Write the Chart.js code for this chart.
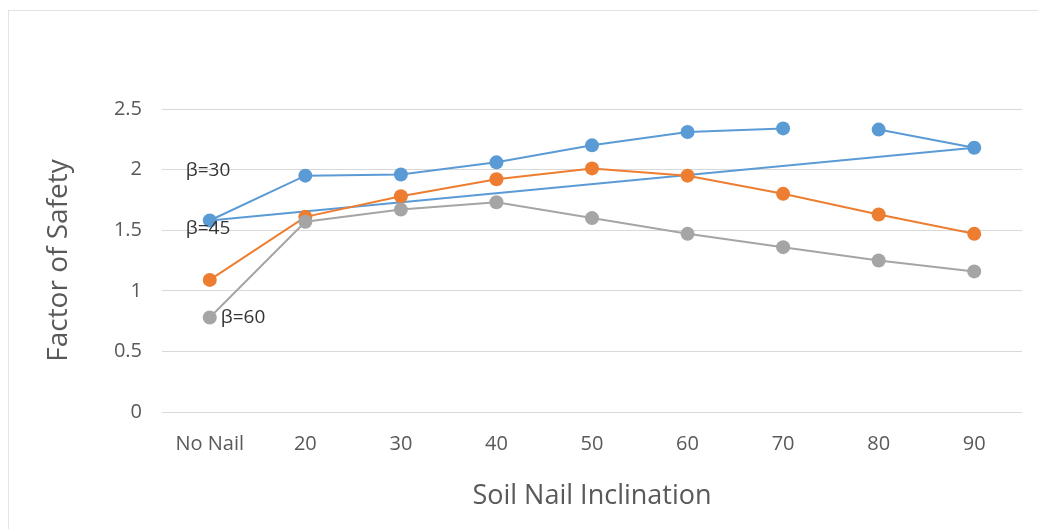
<!DOCTYPE html>
<html>
<head>
<meta charset="utf-8">
<script src="https://cdn.jsdelivr.net/npm/chart.js@4/dist/chart.umd.min.js"></script>
<style>
  body { margin: 0; background: #fff; }
  #wrap { position: relative; width: 1038px; height: 529px; overflow: hidden; }
  #frame { position: absolute; left: 8px; top: 10px; right: -2px; bottom: -2px;
           border-top: 1px solid #e3e3e3; border-left: 1px solid #e3e3e3; }
  canvas { position: absolute; left: 0; top: 0; }
</style>
</head>
<body>
<div id="wrap">
  <div id="frame"></div>
  <canvas id="chart" width="1038" height="529"></canvas>
</div>
<script>
// ---- data ----
const inclinations = ["No Nail", "20", "30", "40", "50", "60", "70", "80", "90"];
const beta30 = [1.58, 1.95, 1.96, 2.06, 2.20, 2.31, 2.34, 2.33, 2.18];
const beta45 = [1.09, 1.61, 1.78, 1.92, 2.01, 1.95, 1.80, 1.63, 1.47];
const beta60 = [0.78, 1.57, 1.67, 1.73, 1.60, 1.47, 1.36, 1.25, 1.16];
// straight blue line joining the first and last beta=30 points
const beta30Chord = [1.58, null, null, null, null, null, null, null, 2.18];
// the beta=30 line is broken after this category
const beta30BreakAfter = "70";
const yTicks = [0, 0.5, 1, 1.5, 2, 2.5];
const yTickLabels = ["0", "0.5", "1", "1.5", "2", "2.5"];

const BLUE = "#5b9bd5", ORANGE = "#ed7d31", GRAY = "#a5a5a5";
const FONT = "'Open Sans', 'Liberation Sans', sans-serif";

// texte "β=.." pres des points "No Nail"
const betaLabels = [
  { text: "β=30", series: 0, dx: -24, dy: -50 },
  { text: "β=45", series: 0, dx: -24, dy: 8 },
  { text: "β=60", series: 2, dx: 11, dy: 0 }
];

const betaLabelPlugin = {
  id: "betaLabels",
  afterDatasetsDraw(chart) {
    const ctx = chart.ctx;
    const x = chart.scales.x, y = chart.scales.y;
    const series = [beta30, beta45, beta60];
    ctx.save();
    ctx.font = "19px " + FONT;
    ctx.fillStyle = "#333";
    ctx.textAlign = "left";
    ctx.textBaseline = "middle";
    betaLabels.forEach(l => {
      const px = x.getPixelForValue(0);
      const py = y.getPixelForValue(series[l.series][0]);
      ctx.fillText(l.text, px + l.dx, py + l.dy);
    });
    ctx.restore();
  }
};

function lineSet(data, color, order) {
  return {
    data: data,
    borderColor: color,
    backgroundColor: color,
    borderWidth: 2,
    pointRadius: 7,
    pointHoverRadius: 7,
    pointBorderWidth: 0,
    tension: 0,
    order: order
  };
}

const blueSet = lineSet(beta30, BLUE, 2);
blueSet.segment = {
  borderColor: c => inclinations[c.p0DataIndex] === beta30BreakAfter ? "transparent" : BLUE
};

const chordSet = lineSet(beta30Chord, BLUE, 3);
chordSet.pointRadius = 0;
chordSet.spanGaps = true;

new Chart(document.getElementById("chart"), {
  type: "line",
  data: {
    labels: inclinations,
    datasets: [blueSet, lineSet(beta45, ORANGE, 1), lineSet(beta60, GRAY, 0), chordSet]
  },
  options: {
    responsive: false,
    animation: false,
    devicePixelRatio: 1,
    layout: { padding: { left: 40, right: 16, top: 109, bottom: 12 } },
    plugins: { legend: { display: false }, tooltip: { enabled: false } },
    scales: {
      x: {
        offset: true,
        grid: { display: false, drawTicks: false },
        border: { display: false },
        ticks: { color: "#595959", font: { family: FONT, size: 20 }, padding: 20, maxRotation: 0 },
        title: { display: true, text: "Soil Nail Inclination", color: "#595959",
                 font: { family: FONT, size: 27 }, padding: { top: 4, bottom: 4 } },
        afterFit(s) { s.height = 529 - 412 - 12; }
      },
      y: {
        min: 0,
        max: 2.5,
        afterBuildTicks(s) { s.ticks = yTicks.map(v => ({ value: v })); },
        grid: { color: "#d9d9d9", drawTicks: false },
        border: { display: false },
        ticks: {
          color: "#595959", font: { family: FONT, size: 20 }, padding: 20,
          callback: (v) => yTickLabels[yTicks.indexOf(v)]
        },
        title: { display: true, text: "Factor of Safety", color: "#595959",
                 font: { family: FONT, size: 28 }, padding: { top: 2, bottom: 0 } },
        afterFit(s) { s.width = 162 - 40; }
      }
    }
  },
  plugins: [betaLabelPlugin]
});
</script>
</body>
</html>
